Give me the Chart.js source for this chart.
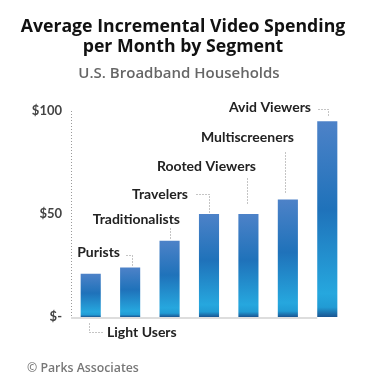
<!DOCTYPE html>
<html>
<head>
<meta charset="utf-8">
<script src="https://cdn.jsdelivr.net/npm/chart.js@4.4.1/dist/chart.umd.min.js"></script>
<style>
  html, body { margin: 0; padding: 0; background: #fff; }
  #wrap { position: relative; width: 370px; height: 392px; }
</style>
</head>
<body>
<div id="wrap"><canvas id="spend"></canvas></div>
<script>
// Average incremental video spending per month, by segment
var segments = ['Light Users', 'Purists', 'Traditionalists', 'Travelers',
                'Rooted Viewers', 'Multiscreeners', 'Avid Viewers'];
var spending = [21, 24, 37, 50, 50, 57, 95];
var yTicks = [0, 50, 100];

var TITLE_LINES = ['Average Incremental Video Spending', 'per Month by Segment'];
var SUBTITLE = 'U.S. Broadband Households';
var FOOTER = '\u00a9 Parks Associates';
var FONT = "'Open Sans', sans-serif";
var LABEL_FONT = "Lato, 'Open Sans', sans-serif";

// where each segment label sits relative to its bar (top, or base for the first one)
// text: right/left edge + vertical centre, leader: dotted polyline
var labelLayout = [
  { ref: 'base', align: 'left',  tx: 16,  ty: 15, leader: [[-2, 6], [-2, 15], [11, 15]] },
  { ref: 'top',  align: 'right', tx: -10, ty: -16, leader: [[-4, -13], [2, -13], [2, -3]] },
  { ref: 'top',  align: 'right', tx: 10,  ty: -22, leader: [[0, -13], [0, -1]] },
  { ref: 'top',  align: 'right', tx: -21, ty: -20, leader: [[-13, -20], [0, -20], [0, -2]] },
  { ref: 'top',  align: 'right', tx: 8,   ty: -48, leader: [[-1, -36], [-1, -9]] },
  { ref: 'top',  align: 'right', tx: 6,   ty: -63, leader: [[-3, -48], [-3, -8]] },
  { ref: 'top',  align: 'right', tx: -16, ty: -14, leader: [[-9, -12], [1, -12], [1, -5]] }
];

function barGradient(context) {
  var chart = context.chart;
  if (!chart.chartArea || !chart.scales.y) return '#1f72ba';
  var y = chart.scales.y;
  var top = y.getPixelForValue(context.raw);
  var base = y.getPixelForValue(0);
  if (!isFinite(top) || base - top < 1) return '#1f72ba';
  var g = chart.ctx.createLinearGradient(0, top, 0, base);
  g.addColorStop(0, '#4d82c8');
  g.addColorStop(0.45, '#1f72ba');
  g.addColorStop(0.88, '#26a7de');
  g.addColorStop(0.95, '#219bd4');
  g.addColorStop(1, '#1a5592');
  return g;
}

var headerPlugin = {
  id: 'header',
  afterDraw: function(chart) {
    var ctx = chart.ctx;
    ctx.save();
    ctx.textAlign = 'center';
    ctx.textBaseline = 'alphabetic';
    ctx.fillStyle = '#111';
    ctx.font = 'bold 17.7px ' + FONT;
    ctx.fillText(TITLE_LINES[0], 183, 32);
    ctx.fillText(TITLE_LINES[1], 183, 52);
    ctx.fillStyle = '#666';
    ctx.font = '600 15px ' + FONT;
    ctx.fillText(SUBTITLE, 179, 78);
    ctx.textAlign = 'left';
    ctx.fillStyle = '#777';
    ctx.font = '600 12.3px ' + FONT;
    ctx.fillText(FOOTER, 27, 372);
    ctx.restore();
  }
};

var axisLinesPlugin = {
  id: 'axisLines',
  beforeDatasetsDraw: function(chart) {
    var ctx = chart.ctx;
    var area = chart.chartArea;
    var meta = chart.getDatasetMeta(0);
    var last = meta.data[meta.data.length - 1];
    var base = chart.scales.y.getPixelForValue(0);
    ctx.save();
    // baseline stops where the last bar starts
    ctx.strokeStyle = '#dddddd';
    ctx.lineWidth = 2;
    ctx.beginPath();
    ctx.moveTo(area.left, base + 1);
    ctx.lineTo(last.x - last.width / 2, base + 1);
    ctx.stroke();
    // dotted value axis
    ctx.strokeStyle = '#9a9a9a';
    ctx.lineWidth = 1;
    ctx.setLineDash([1, 2]);
    ctx.beginPath();
    ctx.moveTo(area.left + 0.5, area.top);
    ctx.lineTo(area.left + 0.5, base + 1);
    ctx.stroke();
    ctx.restore();
  }
};

var segmentLabelsPlugin = {
  id: 'segmentLabels',
  afterDatasetsDraw: function(chart) {
    var ctx = chart.ctx;
    var meta = chart.getDatasetMeta(0);
    ctx.save();
    ctx.font = 'bold 14px ' + LABEL_FONT;
    ctx.textBaseline = 'middle';
    for (var i = 0; i < meta.data.length; i++) {
      var bar = meta.data[i];
      var lay = labelLayout[i];
      var ox = Math.round(bar.x);
      var oy = Math.round(lay.ref === 'base' ? bar.base : bar.y);

      ctx.strokeStyle = '#8a8a8a';
      ctx.lineWidth = 1;
      ctx.setLineDash([1, 2]);
      ctx.beginPath();
      for (var p = 0; p < lay.leader.length; p++) {
        var px = ox + lay.leader[p][0] + 0.5;
        var py = oy + lay.leader[p][1] + 0.5;
        if (p === 0) ctx.moveTo(px, py); else ctx.lineTo(px, py);
      }
      ctx.stroke();

      ctx.setLineDash([]);
      ctx.fillStyle = '#222';
      ctx.textAlign = lay.align;
      ctx.fillText(segments[i], ox + lay.tx, oy + lay.ty);
    }
    ctx.restore();
  }
};

var canvas = document.getElementById('spend');
new Chart(canvas, {
  type: 'bar',
  data: {
    labels: segments,
    datasets: [{
      data: spending,
      backgroundColor: barGradient,
      borderWidth: 0,
      barPercentage: 1,
      categoryPercentage: 0.51
    }]
  },
  options: {
    responsive: true,
    maintainAspectRatio: false,
    animation: false,
    layout: { padding: { top: 111, right: 23, bottom: 75, left: 0 } },
    scales: {
      x: {
        afterFit: function(scale) { scale.height = 0; },
        grid: { display: false, drawTicks: false },
        border: { display: false },
        ticks: { display: false }
      },
      y: {
        min: 0,
        max: 100,
        afterFit: function(scale) { scale.width = 71; },
        afterBuildTicks: function(scale) {
          scale.ticks = yTicks.map(function(v) { return { value: v }; });
        },
        grid: { display: false, drawTicks: false },
        border: { display: false },
        ticks: {
          padding: 9,
          color: '#444',
          font: { family: LABEL_FONT, size: 13, weight: 'bold' },
          callback: function(v) { return v === 0 ? '$-' : '$' + v; }
        }
      }
    },
    plugins: {
      legend: { display: false },
      tooltip: { enabled: false }
    }
  },
  plugins: [axisLinesPlugin, segmentLabelsPlugin, headerPlugin]
});
</script>
</body>
</html>
